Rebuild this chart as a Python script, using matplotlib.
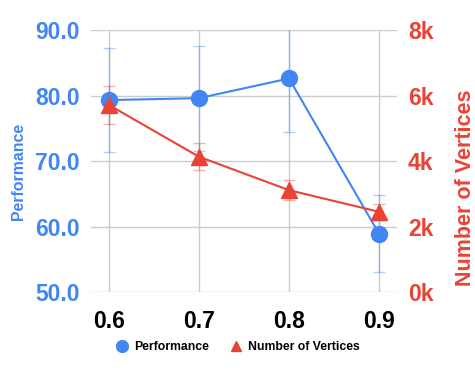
import matplotlib
matplotlib.use('Agg')
import matplotlib.pyplot as plt
from matplotlib.lines import Line2D
from matplotlib.ticker import FuncFormatter

# --- data ---
thresholds = [0.6, 0.7, 0.8, 0.9]
performance = [79.3, 79.6, 82.6, 58.9]
perf_err = [7.9, 8.0, 8.2, 5.9]
vertices = [5710, 4130, 3110, 2450]
vert_err = [570, 410, 310, 240]

BLUE = '#4285F4'
RED = '#EA4335'
GRID = '#cccccc'

plt.rcParams['font.family'] = ['Liberation Sans', 'DejaVu Sans']

fig = plt.figure(figsize=(4.75, 3.71), dpi=100)
ax = fig.add_axes([0.1916, 0.2129, 0.6442, 0.7062])
ax2 = ax.twinx()

# performance (left axis)
ax.errorbar(thresholds, performance, yerr=perf_err, fmt='none',
            ecolor=BLUE, alpha=0.4, elinewidth=1, capsize=4.5, capthick=1, zorder=3)
ax.plot(thresholds, performance, color=BLUE, linewidth=1.5, marker='o',
        markersize=11.5, zorder=4)

# vertices (right axis)
ax2.errorbar(thresholds, vertices, yerr=vert_err, fmt='none',
             ecolor=RED, alpha=0.4, elinewidth=1, capsize=4.5, capthick=1, zorder=3)
ax2.plot(thresholds, vertices, color=RED, linewidth=1.5, marker='^',
         markersize=12, zorder=4)

ax.set_xlim(0.58, 0.92)
ax.set_ylim(50, 90)
ax2.set_ylim(0, 8000)
ax.set_xticks(thresholds)
ax.set_yticks([50, 60, 70, 80, 90])
ax2.set_yticks([0, 2000, 4000, 6000, 8000])
ax.yaxis.set_major_formatter(FuncFormatter(lambda v, p: f'{v:.1f}'))
ax2.yaxis.set_major_formatter(FuncFormatter(lambda v, p: f'{v / 1000:.0f}k'))

ax.grid(True, color=GRID, linewidth=1)
ax.set_axisbelow(True)
for a in (ax, ax2):
    for s in a.spines.values():
        s.set_visible(False)
    a.tick_params(length=0)

ax.tick_params(axis='x', labelsize=16.5, labelcolor='black', pad=13)
ax.tick_params(axis='y', labelsize=16.5, labelcolor=BLUE, pad=8)
ax2.tick_params(axis='y', labelsize=16.5, labelcolor=RED, pad=8)
for lab in ax.get_xticklabels() + ax.get_yticklabels() + ax2.get_yticklabels():
    lab.set_fontweight('bold')

fig.text(0.038, 1 - 171 / 371, 'Performance', rotation=90, color=BLUE,
         fontsize=11.4, fontweight='bold', ha='center', va='center')
fig.text(0.981, 1 - 188 / 371, 'Number of Vertices', rotation=90, color=RED,
         fontsize=15.5, fontweight='bold', ha='center', va='center')

handles = [
    Line2D([], [], color=BLUE, marker='o', linestyle='none', markersize=8.5),
    Line2D([], [], color=RED, marker='^', linestyle='none', markersize=7.5),
]
fig.legend(handles, ['Performance', 'Number of Vertices'], loc='center',
           bbox_to_anchor=(0.5, 0.065), ncol=2, frameon=False,
           prop={'size': 8.8, 'weight': 'bold'}, handletextpad=0.4,
           columnspacing=1.6, handlelength=1.2)

fig.savefig('out.png', dpi=100)
